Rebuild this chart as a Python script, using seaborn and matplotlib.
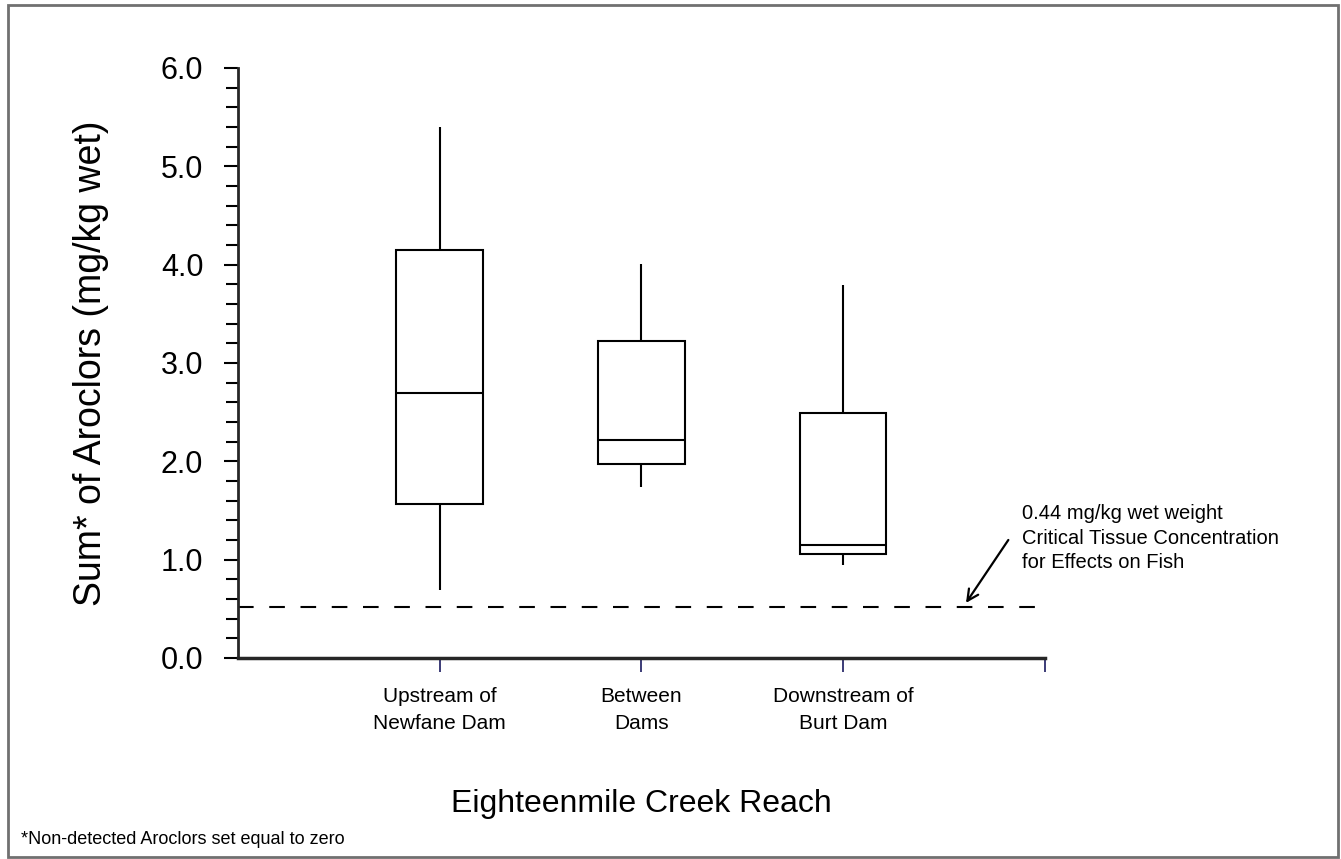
import numpy as np
import pandas as pd
import seaborn as sns
import matplotlib.pyplot as plt
from matplotlib.patches import Rectangle
from matplotlib.ticker import MultipleLocator

reaches = ["Upstream of\nNewfane Dam", "Between\nDams", "Downstream of\nBurt Dam"]
# min, q1, median, q3, max
upstream = [0.69, 1.57, 2.69, 4.15, 5.40]
between = [1.74, 1.97, 2.22, 3.22, 4.01]
downstream = [0.95, 1.06, 1.15, 2.49, 3.79]
critical_level = 0.52
y_ticks = [0.0, 1.0, 2.0, 3.0, 4.0, 5.0, 6.0]

df = pd.DataFrame({
    "reach": np.repeat(reaches, 5),
    "aroclors": upstream + between + downstream,
})

sns.set_style("ticks")
plt.rcParams['font.family'] = ['Liberation Sans', 'DejaVu Sans']
plt.rcParams['text.color'] = 'black'
plt.rcParams['axes.labelcolor'] = 'black'
plt.rcParams['xtick.color'] = 'black'
plt.rcParams['ytick.color'] = 'black'

fig = plt.figure(figsize=(13.41, 8.59), dpi=100)
ax = fig.add_axes([0.1775, 0.234, 0.6015, 0.687])

# five points per group -> quartiles land exactly on the read values
sns.boxplot(data=df, x="reach", y="aroclors", order=reaches, whis=np.inf,
            width=0.43, color="white", linecolor="black", linewidth=1.5,
            showcaps=False, ax=ax)

ax.axhline(critical_level, color="black", lw=1.5, ls=(0, (7.5, 7.5)))

ax.set_xlim(-1, 3)
ax.set_ylim(0, 6)
ax.set_xticks([0, 1, 2, 3])
ax.set_xticklabels(reaches + [""], fontsize=15, linespacing=1.55)
ax.set_yticks(y_ticks)
ax.set_yticklabels([f"{v:.1f}" for v in y_ticks], fontsize=22)
ax.yaxis.set_minor_locator(MultipleLocator(0.2))
ax.tick_params(axis="y", which="major", length=10, width=1.5, pad=15)
ax.tick_params(axis="y", which="minor", length=9, width=1.5)
ax.tick_params(axis="x", which="major", length=10, width=1.2, color="#1a1a60",
               labelcolor="black", pad=11)

sns.despine(ax=ax)
ax.spines["left"].set_linewidth(2)
ax.spines["bottom"].set_linewidth(2.5)

ax.set_xlabel("Eighteenmile Creek Reach", fontsize=23, labelpad=40)
ax.set_ylabel("Sum* of Aroclors (mg/kg wet)", fontsize=27, labelpad=37)

ax.annotate("", xy=(2.61, 0.56), xytext=(2.82, 1.20),
            arrowprops=dict(arrowstyle="->", color="black", lw=1.6,
                            shrinkA=0, shrinkB=0, mutation_scale=20),
            annotation_clip=False)
ax.text(2.89, 1.22, "0.44 mg/kg wet weight\nCritical Tissue Concentration\nfor Effects on Fish",
        fontsize=14.5, ha="left", va="center", linespacing=1.35, clip_on=False)

fig.text(0.016, 0.017, "*Non-detected Aroclors set equal to zero", fontsize=13)

fig.patches.append(Rectangle((0.006, 0.002), 0.9915, 0.992, transform=fig.transFigure,
                             fill=False, edgecolor="#707070", lw=2))

fig.savefig("out.png", dpi=100)
